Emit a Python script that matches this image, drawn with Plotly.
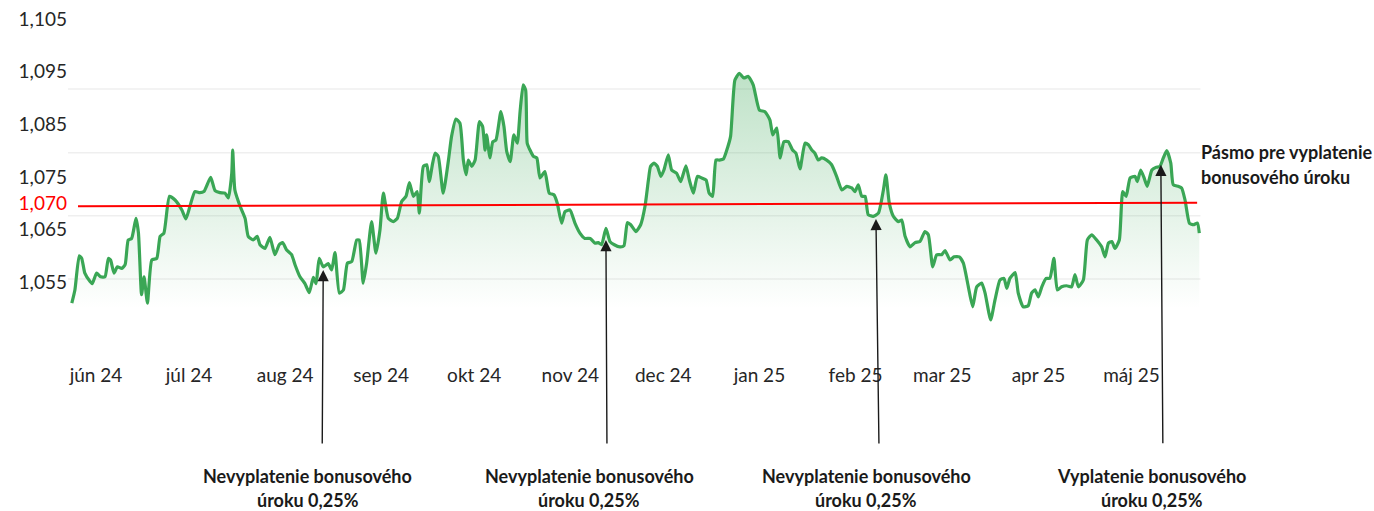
import plotly.graph_objects as go

# x = days since 1 June 2024
days = [-7.8,-6.8,-5.4,-4.6,-3.6,-1.9,-1.2,0.2,1.5,2.9,4.0,4.7,5.8,6.9,8.3,9.4,10.4,11.5,12.9,13.7,
        14.7,15.5,16.6,18.0,19.6,20.7,21.9,23.7,25.5,27.7,29.0,30.3,31.9,33.5,34.8,37.0,38.4,40.0,41.6,42.7,
        43.8,44.1,44.8,46.5,48.1,49.1,50.7,52.0,52.9,54.5,56.1,57.7,59.1,60.2,61.5,63.1,64.2,65.8,67.4,68.8,
        70.1,71.0,72.0,73.3,74.9,76.0,77.1,78.5,79.8,81.1,82.5,84.1,84.9,86.2,87.3,88.9,90.3,91.6,92.7,94.3,
        95.9,97.2,98.6,100.0,101.1,102.4,103.6,104.3,105.6,106.7,107.5,108.6,109.4,110.4,
        112.0,113.7,114.7,116.1,117.4,118.5,119.4,120.1,121.2,122.3,123.7,124.7,125.5,126.0,127.1,128.0,129.0,130.6,131.6,132.5,
        133.6,134.8,135.9,136.8,137.8,138.6,139.1,140.0,141.1,142.2,143.2,144.8,146.2,147.7,148.8,150.2,151.3,152.9,154.5,156.1,
        157.7,159.4,161.0,162.0,163.1,164.5,165.8,167.2,169.0,170.3,171.4,172.5,174.2,175.7,177.1,178.2,178.9,180.0,181.1,182.2,
        183.2,184.6,185.7,187.3,188.6,190.3,191.4,192.7,194.0,195.4,196.8,197.8,198.9,200.0,201.1,202.4,203.7,204.7,206.1,207.5,
        209.0,210.4,212.0,214.0,215.8,217.4,218.3,219.6,220.7,221.9,223.3,224.7,225.8,227.1,228.7,229.8,
        230.9,231.9,233.0,234.1,235.7,237.3,238.9,240.6,242.2,243.8,244.8,245.9,247.0,248.1,249.1,250.7,252.4,254.0,254.8,255.9,
        257.2,258.8,259.9,261.0,262.6,264.2,265.8,267.4,268.5,269.9,271.2,272.8,273.9,275.5,276.8,278.5,279.8,281.4,282.8,284.1,
        285.7,286.8,288.6,290.0,291.6,292.9,293.8,294.8,296.5,297.5,299.1,300.7,301.8,302.9,304.0,305.1,306.5,307.7,309.0,310.1,
        311.5,313.1,314.7,315.8,316.9,318.5,319.8,321.2,322.8,324.4,325.5,326.6,327.7,328.7,330.1,331.2,332.3,333.6,335.2,335.9,
        337.0,338.1,339.1,340.6,341.9,343.2,344.3,345.4,346.7,347.5,349.1,350.2,351.3,352.7,354.0,355.3,355.9]

values = [1.0510,1.0535,1.0600,1.0595,1.0567,1.0551,1.0547,1.0567,1.0560,1.0560,1.0595,1.0592,1.0567,1.0579,1.0576,1.0583,1.0630,1.0633,1.0671,1.0643,
          1.0526,1.0560,1.0510,1.0592,1.0595,1.0637,1.0643,1.0713,1.0706,1.0687,1.0670,1.0694,1.0722,1.0720,1.0722,1.0749,1.0724,1.0720,1.0719,1.0710,
          1.0757,1.0801,1.0725,1.0694,1.0671,1.0637,1.0630,1.0637,1.0621,1.0614,1.0635,1.0602,1.0621,1.0625,1.0611,1.0602,1.0583,1.0560,1.0547,1.0530,
          1.0559,1.0547,1.0595,1.0579,1.0585,1.0573,1.0606,1.0529,1.0535,1.0586,1.0589,1.0630,1.0630,1.0548,1.0586,1.0665,1.0605,1.0649,1.0719,1.0671,
          1.0665,1.0671,1.0703,1.0713,1.0739,1.0713,1.0722,1.0681,1.0770,1.0773,1.0741,1.0776,1.0795,1.0789,
          1.0719,1.0782,1.0827,1.0860,1.0852,1.0782,1.0754,1.0782,1.0770,1.0782,1.0855,1.0846,1.0801,1.0830,1.0786,1.0817,1.0820,1.0874,1.0846,1.0798,
          1.0779,1.0830,1.0814,1.0874,1.0925,1.0915,1.0814,1.0801,1.0789,1.0786,1.0748,1.0760,1.0719,1.0716,1.0700,1.0662,1.0684,1.0687,1.0662,1.0643,
          1.0633,1.0633,1.0624,1.0625,1.0621,1.0652,1.0627,1.0621,1.0617,1.0619,1.0663,1.0659,1.0646,1.0659,1.0694,1.0744,1.0770,1.0776,1.0770,1.0751,
          1.0763,1.0792,1.0763,1.0757,1.0741,1.0771,1.0744,1.0719,1.0751,1.0748,1.0744,1.0719,1.0713,1.0782,1.0782,1.0784,1.0805,1.0827,1.0934,1.0947,
          1.0938,1.0941,1.0925,1.0877,1.0874,1.0858,1.0830,1.0843,1.0786,1.0817,1.0817,1.0801,1.0795,1.0765,1.0814,1.0811,
          1.0801,1.0795,1.0782,1.0786,1.0782,1.0773,1.0751,1.0725,1.0732,1.0729,1.0722,1.0735,1.0713,1.0713,1.0678,1.0675,1.0681,1.0725,1.0754,1.0700,
          1.0675,1.0665,1.0668,1.0637,1.0617,1.0625,1.0627,1.0646,1.0640,1.0579,1.0602,1.0602,1.0610,1.0592,1.0598,1.0598,1.0586,1.0541,1.0503,1.0541,
          1.0548,1.0529,1.0478,1.0516,1.0554,1.0557,1.0538,1.0557,1.0568,1.0529,1.0503,1.0505,1.0529,1.0535,1.0522,1.0541,1.0557,1.0557,1.0595,1.0535,
          1.0541,1.0543,1.0541,1.0564,1.0541,1.0554,1.0630,1.0640,1.0630,1.0617,1.0598,1.0624,1.0627,1.0614,1.0630,1.0722,1.0713,1.0748,1.0751,1.0741,
          1.0763,1.0748,1.0732,1.0763,1.0768,1.0770,1.0786,1.0800,1.0776,1.0735,1.0732,1.0729,1.0706,1.0662,1.0659,1.0662,1.0643]

assert len(days) == len(values), (len(days), len(values))

month_days = [0, 30, 61, 92, 122, 153, 183, 214, 245, 273, 304, 334]
month_labels = ["jún 24", "júl 24", "aug 24", "sep 24", "okt 24", "nov 24",
                "dec 24", "jan 25", "feb 25", "mar 25", "apr 25", "máj 25"]

y_ticks = [1.105, 1.095, 1.085, 1.075, 1.070, 1.065, 1.055]
y_labels = ["1,105", "1,095", "1,085", "1,075", "<span style='color:#ff0000'>1,070</span>", "1,065", "1,055"]

grid_levels = [1.0917, 1.0796, 1.0676, 1.0556]

threshold_days = [-5.8, 355.2]
threshold_vals = [1.0694, 1.0701]

arrow_days = [73.3, 164.5, 251.6, 343.5]
arrow_vals = [1.0573, 1.0630, 1.0670, 1.0773]
arrow_labels = [("Nevyplatenie bonusového", "úroku 0,25%"),
                ("Nevyplatenie bonusového", "úroku 0,25%"),
                ("Nevyplatenie bonusového", "úroku 0,25%"),
                ("Vyplatenie bonusového", "úroku 0,25%")]
label_days = [68.3, 159.1, 248.5, 340.5]

band_text = ["Pásmo pre vyplatenie", "bonusového úroku"]

GREEN = "#3aa655"
FONT = "Lato"
TXT = "#1a1a1a"

fig = go.Figure()

fig.add_trace(go.Scatter(
    x=days, y=values, mode="lines",
    line=dict(color=GREEN, width=3.2, shape="spline", smoothing=0.5),
    fill="tozeroy",
    fillgradient=dict(type="vertical", start=1.050, stop=1.095,
                      colorscale=[[0, "rgba(58,166,85,0)"], [1, "rgba(58,166,85,0.33)"]]),
    hoverinfo="skip", showlegend=False,
))

fig.add_trace(go.Scatter(
    x=threshold_days, y=threshold_vals, mode="lines",
    line=dict(color="#ff0000", width=2), hoverinfo="skip", showlegend=False,
))

for g in grid_levels:
    fig.add_shape(type="line", xref="paper", x0=0, x1=0.996, yref="y", y0=g, y1=g,
                  line=dict(color="#efefef", width=1.5), layer="below")

tails = [175, 205, 226, 280]
tail_dx = [-1, 1, 3, 2]
for i in range(4):
    fig.add_annotation(x=arrow_days[i], y=arrow_vals[i], xref="x", yref="y", text="",
                       showarrow=True, arrowhead=2, arrowsize=1.6, arrowwidth=1.4,
                       arrowcolor=TXT, ax=tail_dx[i], ay=tails[i], standoff=0)
    fig.add_annotation(x=label_days[i], y=-0.321, xref="x", yref="paper",
                       text="<b>" + arrow_labels[i][0] + "</b>", showarrow=False,
                       font=dict(family=FONT, size=18, color=TXT), xanchor="center", yanchor="middle")
    fig.add_annotation(x=label_days[i], y=-0.389, xref="x", yref="paper",
                       text="<b>" + arrow_labels[i][1] + "</b>", showarrow=False,
                       font=dict(family=FONT, size=18, color=TXT), xanchor="center", yanchor="middle")

fig.add_annotation(x=0.9947, y=0.592, xref="paper", yref="paper", text="<b>" + band_text[0] + "</b>",
                   showarrow=False, xanchor="left", yanchor="middle",
                   font=dict(family=FONT, size=18, color=TXT))
fig.add_annotation(x=0.9947, y=0.521, xref="paper", yref="paper", text="<b>" + band_text[1] + "</b>",
                   showarrow=False, xanchor="left", yanchor="middle",
                   font=dict(family=FONT, size=18, color=TXT))

fig.update_layout(
    width=1374, height=511,
    margin=dict(l=68, r=169, t=7, b=149),
    paper_bgcolor="white", plot_bgcolor="white",
    font=dict(family=FONT, color="#262626"),
    showlegend=False,
    xaxis=dict(range=[-9.03, 357.74], tickvals=month_days, ticktext=month_labels,
               showgrid=False, zeroline=False, showline=False, ticks="",
               tickfont=dict(family=FONT, size=19, color="#262626")),
    yaxis=dict(range=[1.0398, 1.1073], tickvals=y_ticks, ticktext=y_labels,
               showgrid=False, zeroline=False, showline=False, ticks="",
               tickfont=dict(family=FONT, size=19, color="#262626")),
)

fig.write_html("out.html", config={"displayModeBar": False},
               post_script="document.body.style.margin='0';")
